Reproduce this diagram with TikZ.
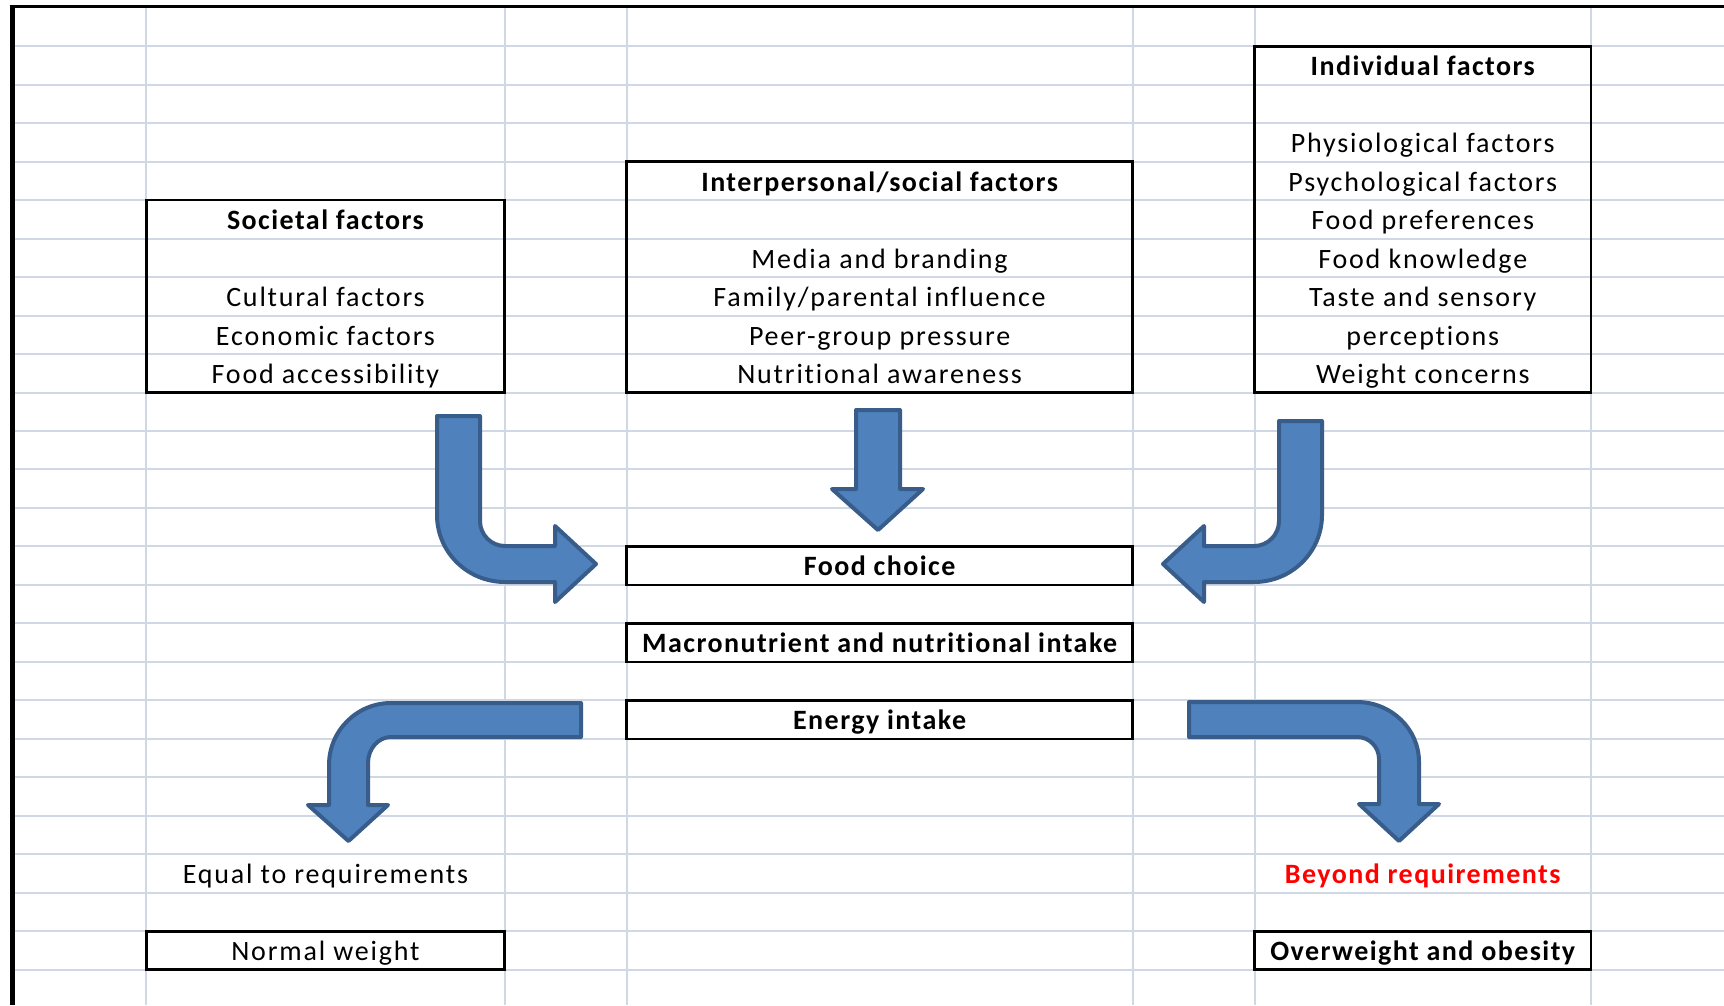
\documentclass[tikz,border=0pt]{standalone}
\usepackage{fontspec}
\setmainfont{Carlito}[LetterSpace=6.5, Ligatures=NoCommon, BoldFeatures={LetterSpace=5.2}]
\usetikzlibrary{fit}

\definecolor{gridgray}{RGB}{208,215,229}
\definecolor{arrowfill}{RGB}{79,129,189}
\definecolor{arrowline}{RGB}{56,93,138}

\begin{document}
\begin{tikzpicture}[x=1pt,y=-1pt,
  gridline/.style={draw=gridgray, line width=2pt},
  framebox/.style={draw=black, line width=2.6pt, inner sep=0pt, rectangle},
  txt/.style={anchor=base, inner sep=0pt, yshift=-1.5pt, font=\fontsize{28}{34}\selectfont},
  hdr/.style={anchor=base, inner sep=0pt, yshift=-1.5pt, font=\fontsize{28}{34}\selectfont\bfseries},
  blockarrow/.style={fill=arrowfill, draw=arrowline, line width=4pt, line join=round}]

\useasboundingbox (0,0) rectangle (1724,1005);
\fill[white] (0,0) rectangle (1724,1005);

% spreadsheet grid
\foreach \k in {0,...,24}
  \draw[gridline] (12,{46.2+38.48*\k}) -- (1724,{46.2+38.48*\k});
\foreach \x in {146.2,504.7,626.7,1132.5,1254.5,1591}
  \draw[gridline] (\x,6.7) -- (\x,1005);

% sheet border
\draw[line width=5pt] (12,5) -- (12,1005);
\draw[line width=3.4pt] (9.5,6.7) -- (1724,6.7);

% framed cell ranges
\node[framebox, fit={(146.2,200.1) (504.7,392.5)}] (societal) {};
\node[framebox, fit={(626.7,161.6) (1132.5,392.5)}] (social) {};
\node[framebox, fit={(1254.5,46.2) (1591,392.5)}] (individual) {};
\node[framebox, fit={(626.7,546.4) (1132.5,584.9)}] (choice) {};
\node[framebox, fit={(626.7,623.4) (1132.5,661.9)}] (macro) {};
\node[framebox, fit={(626.7,700.4) (1132.5,738.8)}] (energy) {};
\node[framebox, fit={(146.2,931.2) (504.7,969.7)}] (normal) {};
\node[framebox, fit={(1254.5,931.2) (1591,969.7)}] (obese) {};

% societal factors
\node[hdr] (soc0) at (325.45,228.1) {Societal factors};
\node[txt] (soc1) at (325.45,305.1) {Cultural factors};
\node[txt] (soc2) at (325.45,343.5) {Economic factors};
\node[txt] (soc3) at (325.45,382.0) {Food accessibility};

% interpersonal factors
\node[hdr] (int0) at (879.6,189.6) {Interpersonal/social factors};
\node[txt] (int1) at (879.6,266.6) {Media and branding};
\node[txt] (int2) at (879.6,305.1) {Family/parental influence};
\node[txt] (int3) at (879.6,343.5) {Peer-group pressure};
\node[txt] (int4) at (879.6,382.0) {Nutritional awareness};

% individual factors
\node[hdr] (ind0) at (1422.75,74.2) {Individual factors};
\node[txt] (ind1) at (1422.75,151.1) {Physiological factors};
\node[txt] (ind2) at (1422.75,189.6) {Psychological factors};
\node[txt] (ind3) at (1422.75,228.1) {Food preferences};
\node[txt] (ind4) at (1422.75,266.6) {Food knowledge};
\node[txt] (ind5) at (1422.75,305.1) {Taste and sensory};
\node[txt] (ind6) at (1422.75,343.5) {perceptions};
\node[txt] (ind7) at (1422.75,382.0) {Weight concerns};

% central chain
\node[hdr] (choiceT) at (879.6,574.4) {Food choice};
\node[hdr] (macroT) at (879.6,651.4) {Macronutrient and nutritional intake};
\node[hdr] (energyT) at (879.6,728.3) {Energy intake};

% outcomes
\node[txt] (equal) at (325.45,882.3) {Equal to requirements};
\node[hdr, text=red] (beyond) at (1422.75,882.3) {Beyond requirements};
\node[txt] (normalT) at (325.45,959.2) {Normal weight};
\node[hdr] (obeseT) at (1422.75,959.2) {Overweight and obesity};

% bent arrow: societal -> food choice
\draw[blockarrow] (437,416) -- (437,515)
  .. controls (437,552) and (467.4,582) .. (505,582)
  -- (555,582) -- (555,602) -- (596,564) -- (555,526) -- (555,546) -- (505,546)
  .. controls (491.2,546) and (480,534.8) .. (480,521)
  -- (480,416) -- cycle;

% straight arrow: interpersonal -> food choice
\draw[blockarrow] (856,410) -- (900,410) -- (900,489) -- (923,489)
  -- (878,530) -- (832,489) -- (856,489) -- cycle;

% bent arrow: individual -> food choice
\draw[blockarrow] (1322,421) -- (1322,515)
  .. controls (1322,552) and (1291.6,582) .. (1254,582)
  -- (1204,582) -- (1204,602) -- (1163,564) -- (1204,526) -- (1204,546) -- (1254,546)
  .. controls (1267.8,546) and (1279,534.8) .. (1279,521)
  -- (1279,421) -- cycle;

% bent arrow: energy intake -> equal to requirements
\draw[blockarrow] (581,703) -- (391,703)
  .. controls (356.8,703) and (329,730.8) .. (329,765)
  -- (329,805) -- (308,805) -- (348.5,841) -- (388,805) -- (368,805) -- (368,763)
  .. controls (368,748.6) and (378.3,737) .. (391,737)
  -- (581,737) -- cycle;

% bent arrow: energy intake -> beyond requirements
\draw[blockarrow] (1189,702) -- (1357,702)
  .. controls (1391.2,702) and (1419,728.9) .. (1419,762)
  -- (1419,804) -- (1439,804) -- (1399,841) -- (1359,804) -- (1379,804) -- (1379,759)
  .. controls (1379,746.8) and (1369.2,737) .. (1357,737)
  -- (1189,737) -- cycle;

\end{tikzpicture}
\end{document}
